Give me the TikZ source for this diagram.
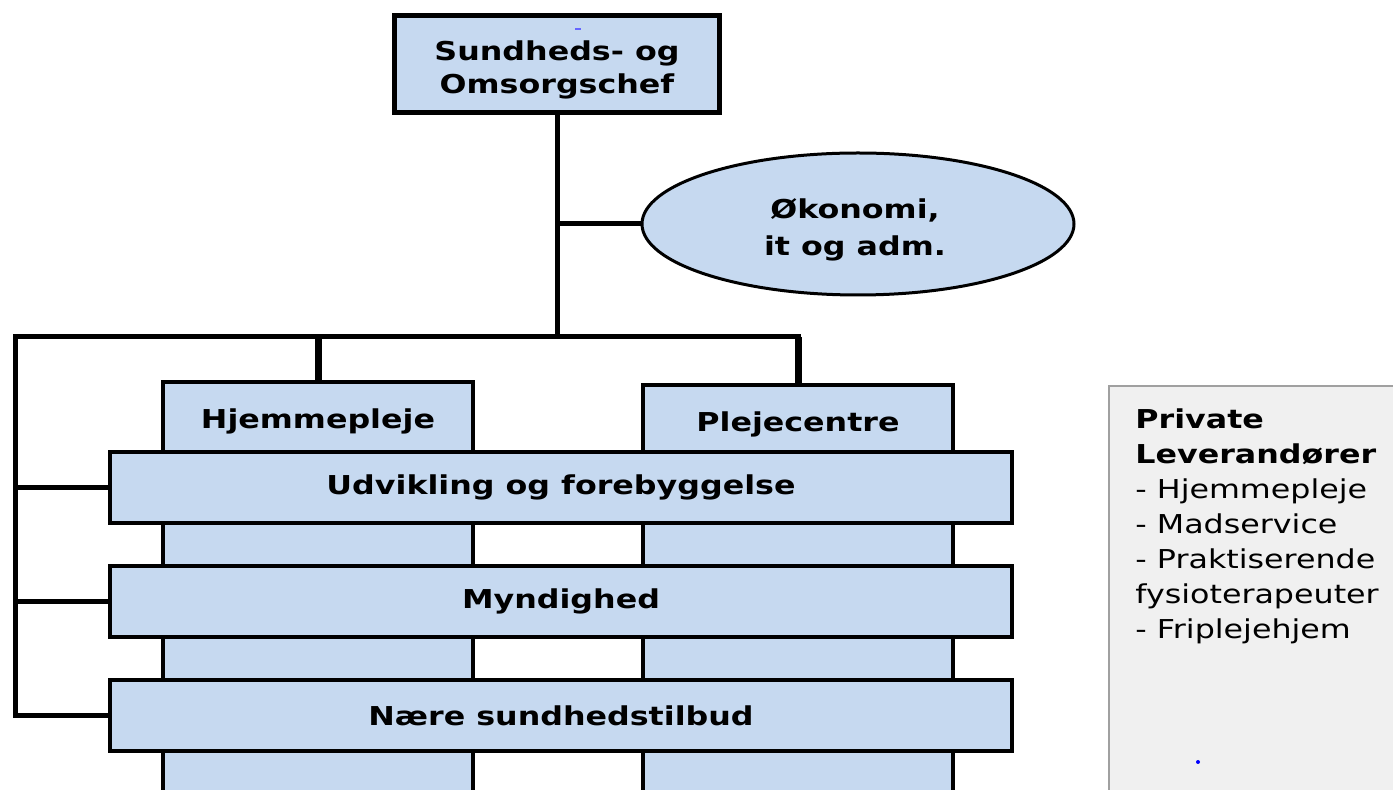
\documentclass[tikz,border=0pt]{standalone}
\usepackage{fontspec}
\setmainfont{DejaVu Sans}[FakeStretch=1.22]
\usetikzlibrary{positioning,shapes.geometric}
\definecolor{boxblue}{HTML}{C6D9F0}
\definecolor{panelgray}{HTML}{F0F0F0}
\definecolor{panelline}{HTML}{A0A0A0}

\begin{document}
\begin{tikzpicture}[x=0.5pt, y=-0.5pt,
    orgbox/.style={draw, line width=1.8pt, fill=boxblue, inner sep=0pt, outer sep=0pt, align=center, font=\fontsize{13}{16.5}\selectfont\bfseries},
    collabel/.style={inner sep=0pt, align=center, font=\fontsize{13}{16.5}\selectfont\bfseries},
    conn/.style={line width=2.5pt, line join=miter},
    drop/.style={line width=3.5pt}]

        \useasboundingbox (0,0) rectangle (1393,790);
        \clip (0,0) rectangle (1393,790);
        \fill[white] (0,0) rectangle (1393,790);

        % Head of the department
        \node[orgbox, line width=2.4pt, minimum width=162.5pt, minimum height=48.5pt] (chef) at (557,64) {};
        \node[collabel] (chef_label) at ([yshift=-3pt]chef.center) {Sundheds- og\\Omsorgschef};
        \node[fill=blue!60, minimum width=3pt, minimum height=1pt, inner sep=0pt] (chef_mark) at (578,29) {};

        % Staff function
        \node[draw, ellipse, line width=1.5pt, fill=boxblue, minimum width=216pt, minimum height=71pt, inner sep=0pt, outer sep=0pt] (oko) at (858,224) {};
        \node[collabel, font=\fontsize{13}{18.5}\selectfont\bfseries] (oko_label) at ([xshift=-1.5pt, yshift=-3pt]oko.center) {Økonomi,\\it og adm.};

        % Columns
        \node[orgbox, minimum width=155pt, minimum height=215pt, anchor=north] (hjem) at (318,382) {};
        \node[collabel] (hjem_label) at ([yshift=-19.5pt]hjem.north) {Hjemmepleje};
        \node[orgbox, minimum width=155pt, minimum height=215pt, anchor=north] (pleje) at (798,385) {};
        \node[collabel] (pleje_label) at ([yshift=-19.5pt]pleje.north) {Plejecentre};

        % Cross-cutting rows
        \node[orgbox, minimum width=451pt, minimum height=35.5pt] (udv) at (561,487.5) {Udvikling og forebyggelse};
        \node[orgbox, minimum width=451pt, minimum height=35.5pt, below=21.5pt of udv] (mynd) {Myndighed};
        \node[orgbox, minimum width=451pt, minimum height=35.5pt, below=21.5pt of mynd] (naere) {Nære sundhedstilbud};

        % Private suppliers
        \node[draw=panelline, line width=1pt, fill=panelgray, anchor=north west, minimum width=200pt, minimum height=250pt] (panel) at (1108,385) {};
        \node[anchor=north west, align=left, inner sep=0pt, font=\fontsize{13}{17.5}\selectfont] (panel_text) at (1135,408) {\textbf{Private}\\\textbf{Leverandører}\\- Hjemmepleje\\- Madservice\\- Praktiserende\\fysioterapeuter\\- Friplejehjem};
        \node[circle, fill=blue, minimum size=2pt, inner sep=0pt] (panel_dot) at (1198,762) {};

        % Draw connections
        \coordinate (barL) at (15,337);
        \draw[conn] (chef.south) -- (chef.south |- barL);
        \draw[conn] (chef.south |- oko.west) -- (oko.west);
        \draw[conn] (naere.west) -| (barL) -| (pleje.north);
        \draw[drop] (hjem.north |- barL) -- (hjem.north);
        \draw[drop] (pleje.north |- barL) -- (pleje.north);
        \draw[conn] (barL |- udv.west) -- (udv.west);
        \draw[conn] (barL |- mynd.west) -- (mynd.west);

    \end{tikzpicture}
\end{document}
